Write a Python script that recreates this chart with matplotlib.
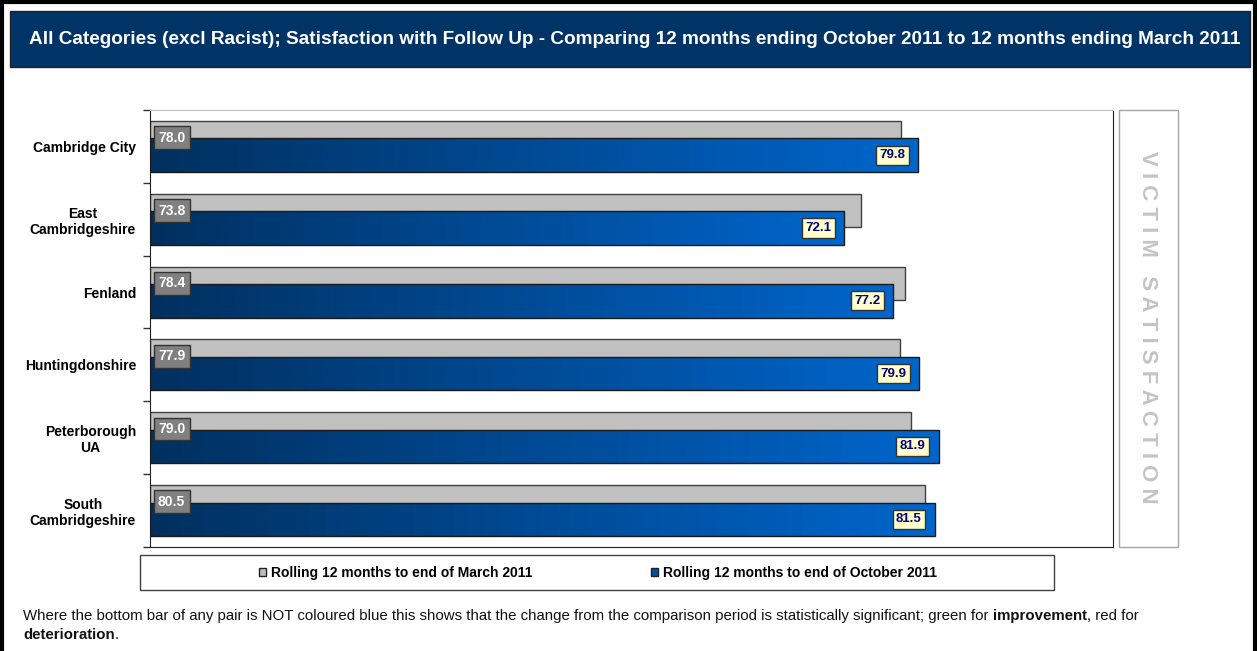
import numpy as np
import matplotlib
matplotlib.use("Agg")
import matplotlib.pyplot as plt
from matplotlib.patches import Rectangle, Patch
from matplotlib.colors import LinearSegmentedColormap

plt.rcParams['font.family'] = ['Liberation Sans', 'DejaVu Sans']

# data
districts = ["Cambridge City", "East\nCambridgeshire", "Fenland", "Huntingdonshire",
             "Peterborough\nUA", "South\nCambridgeshire"]
march_2011 = [78.0, 73.8, 78.4, 77.9, 79.0, 80.5]
october_2011 = [79.8, 72.1, 77.2, 79.9, 81.9, 81.5]
series_names = ["Rolling 12 months to end of March 2011",
                "Rolling 12 months to end of October 2011"]
title = ("All Categories (excl Racist); Satisfaction with Follow Up - Comparing "
         "12 months ending October 2011 to 12 months ending March 2011")
side_label = "VICTIM SATISFACTION"

W, H = 1257, 651


def fx(px):
    return px / W


def fy(py):
    return 1 - py / H


fig = plt.figure(figsize=(W / 100, H / 100), dpi=100)

# outer frame (left, top, right)
fig.add_artist(plt.Line2D([fx(1.5), fx(1.5)], [0, fy(1.5)], color='black', lw=3))
fig.add_artist(plt.Line2D([fx(1.5), fx(1255)], [fy(1.5), fy(1.5)], color='black', lw=3))
fig.add_artist(plt.Line2D([fx(1255), fx(1255)], [0, fy(1.5)], color='black', lw=3))

# title banner
fig.add_artist(Rectangle((fx(10), fy(67)), fx(1250) - fx(10), fy(11) - fy(67),
                         transform=fig.transFigure, fc='#003366', ec='#222222', lw=1))
fig.text(fx(635), fy(40), title, ha='center', va='center', color='white',
         fontsize=13.7, fontweight='bold')

# main plot area
ax = fig.add_axes([fx(150), fy(547), fx(1113) - fx(150), fy(110) - fy(547)])
y = np.arange(len(districts))
off = 0.12
hgt = 0.46

ax.barh(y - off, march_2011, height=hgt, color='#C0C0C0', edgecolor='#404040',
        linewidth=1, zorder=2)
blue_bars = ax.barh(y + off, october_2011, height=hgt, color='none',
                    edgecolor='#1a1a1a', linewidth=1, zorder=4)

# left-to-right gradient fill for the blue bars
cmap = LinearSegmentedColormap.from_list('grad', ['#00305f', '#0066cc'])
grad = np.linspace(0, 1, 256).reshape(1, -1)
for bar in blue_bars:
    x0, y0 = bar.get_x(), bar.get_y()
    w, h = bar.get_width(), bar.get_height()
    im = ax.imshow(grad, extent=(x0, x0 + w, y0 + h, y0), cmap=cmap,
                   aspect='auto', zorder=3, interpolation='bilinear')
    im.set_clip_path(bar)

for i, v in enumerate(march_2011):
    ax.annotate(f"{v:.1f}", xy=(0, i - off), xytext=(8, 0), textcoords='offset pixels',
                ha='left', va='center', color='white', fontsize=10, fontweight='bold',
                zorder=6,
                bbox=dict(boxstyle='square,pad=0.32', fc='#808080', ec='#333333', lw=1))
for i, v in enumerate(october_2011):
    ax.annotate(f"{v:.1f}", xy=(v, i + off), xytext=(-13, 0), textcoords='offset pixels',
                ha='right', va='center', color='#000080', fontsize=9.5, fontweight='bold',
                zorder=6,
                bbox=dict(boxstyle='square,pad=0.27', fc='#FFFFCC', ec='#333333', lw=1))

ax.set_xlim(0, 100)
ax.set_ylim(len(districts) - 0.5, -0.5)
ax.set_xticks([])
ax.set_yticks(y)
ax.set_yticklabels(districts, fontsize=10, fontweight='bold', multialignment='center')
ax.tick_params(axis='y', which='major', length=0, pad=10)
ax.set_yticks(np.arange(-0.5, len(districts)), minor=True)
ax.tick_params(axis='y', which='minor', length=5, width=1, color='#333333')
for s in ['left', 'bottom', 'right']:
    ax.spines[s].set_color('#222222')
ax.spines['top'].set_color('#c0c0c0')

# side label box
fig.add_artist(Rectangle((fx(1119), fy(547)), fx(1178) - fx(1119), fy(110) - fy(547),
                         transform=fig.transFigure, fc='white', ec='#a6a6a6', lw=1))
fig.text(fx(1148), fy(327), " ".join(side_label),
         rotation=270, ha='center', va='center', color='#c4c4c4', fontsize=16,
         fontweight='bold')

# legend
fig.add_artist(Rectangle((fx(140), fy(590)), fx(1054) - fx(140), fy(555) - fy(590),
                         transform=fig.transFigure, fc='white', ec='#404040', lw=1))
handles = [Patch(fc='#C0C0C0', ec='#222222', lw=1),
           Patch(fc='#0050a6', ec='#222222', lw=1)]
fig.legend(handles, series_names, loc='center', bbox_to_anchor=(fx(598), fy(573)),
           ncol=2, frameon=False, handlelength=0.5, handleheight=0.5,
           handletextpad=0.3, columnspacing=8.6, borderpad=0,
           prop={'size': 10, 'weight': 'bold'})

# footnote with bold words, chained along a common baseline
fs = 10.8
fig.canvas.draw()
r = fig.canvas.get_renderer()


def chain(pieces, x, yb):
    for txt, wt in pieces:
        t = fig.text(x, yb, txt, fontsize=fs, fontweight=wt, va='baseline', color='#111111')
        x = t.get_window_extent(r).x1 / W


chain([("Where the bottom bar of any pair is NOT coloured blue this shows that the change "
        "from the comparison period is statistically significant; green for ", 'normal'),
       ("improvement", 'bold'), (", red for", 'normal')], fx(23), fy(620))
chain([("deterioration", 'bold'), (".", 'normal')], fx(23), fy(639))

fig.savefig("out.png", dpi=100)
